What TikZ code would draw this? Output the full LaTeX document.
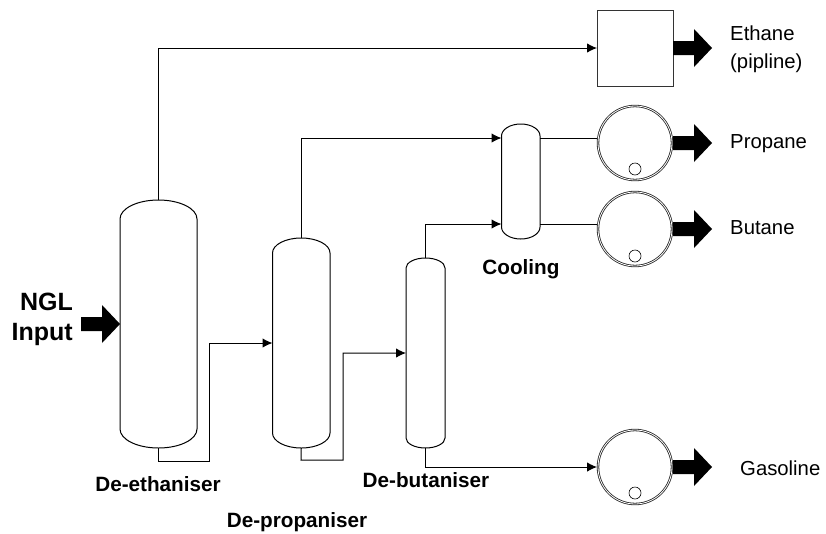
\documentclass[tikz,border=0pt]{standalone}
\usepackage{fontspec}
\setmainfont{Liberation Sans}
\usetikzlibrary{arrows.meta}
\newcommand{\vesselshape}[6]{% name, left, right, top, bottom, head height
  \pgfmathsetmacro{\vxm}{(#2+#3)/2}\pgfmathsetmacro{\vym}{(#4+#5)/2}
  \pgfmathsetmacro{\vw}{#3-#2}\pgfmathsetmacro{\vh}{#5-#4}
  \pgfmathsetmacro{\vkx}{0.5523*\vw/2}\pgfmathsetmacro{\vky}{0.5523*#6}
  \draw[line width=1pt,fill=white]
    (#2,#4+#6) .. controls (#2,#4+#6-\vky) and (\vxm-\vkx,#4) .. (\vxm,#4)
    .. controls (\vxm+\vkx,#4) and (#3,#4+#6-\vky) .. (#3,#4+#6)
    -- (#3,#5-#6) .. controls (#3,#5-#6+\vky) and (\vxm+\vkx,#5) .. (\vxm,#5)
    .. controls (\vxm-\vkx,#5) and (#2,#5-#6+\vky) .. (#2,#5-#6) -- cycle;
  \node[inner sep=0pt,outer sep=0pt,minimum width=\vw pt,minimum height=\vh pt] (#1) at (\vxm,\vym) {};
}
\newcommand{\blockarrow}[2]{% tip-side start x, centre y
  \fill[black] (#1,#2-7) -- (#1+21,#2-7) -- (#1+21,#2-19) -- (#1+39,#2) -- (#1+21,#2+19) -- (#1+21,#2+7) -- (#1,#2+7) -- cycle;
}
\tikzset{
  pipe/.style={line width=1pt},
  flow/.style={line width=1pt,-{Latex[length=10pt,width=9.5pt]}},
  drum/.style={circle,draw=black!85,line width=.8pt,double=white,double distance=.8pt,minimum size=74pt,inner sep=0pt,outer sep=1pt},
  boot/.style={circle,draw,line width=.6pt,minimum size=12pt,inner sep=0pt},
  plain/.style={font=\fontsize{20.3}{28}\selectfont,align=left,inner sep=0pt,anchor=west},
  tag/.style={font=\fontsize{20.7}{24}\selectfont\bfseries,inner sep=0pt},
}
\begin{document}
\begin{tikzpicture}[x=1pt,y=-1pt]
\useasboundingbox (0,0) rectangle (826,533);
\vesselshape{de}{120}{197}{200}{448}{19}
\vesselshape{dp}{272.5}{330}{238}{448}{15}
\vesselshape{db}{406}{445}{258}{448}{10}
\vesselshape{cool}{501.5}{540}{124}{239}{12}
\node[draw=black!80,line width=.8pt,minimum size=76pt,inner sep=0pt,outer sep=0pt] (box) at (635,48) {};
\node[drum] (d1) at (635,143) {};
\node[drum] (d2) at (635,229) {};
\node[drum] (d3) at (635,467) {};
\node[boot] (b1) at (635,169) {};
\node[boot] (b2) at (635,256) {};
\node[boot] (b3) at (635,493) {};
\coordinate (coolA) at (501.5,138);
\coordinate (coolB) at (501.5,224);
\coordinate (coolC) at (540,138);
\coordinate (coolD) at (540,224);
\coordinate (j1) at (158.5,461);
\coordinate (j2) at (209,343);
\coordinate (j3) at (301,460);
\coordinate (j4) at (343,353);
\draw[flow] (de.north) |- (box.west);
\draw[flow] (de.south) -- (j1) -| (j2) -- (dp.west);
\draw[flow] (dp.north) |- (coolA);
\draw[flow] (dp.south) -- (j3) -| (j4) -- (db.west);
\draw[flow] (db.north) |- (coolB);
\draw[flow] (db.south) |- (d3.west);
\draw[pipe] (coolC) -- (coolC -| d1.west);
\draw[pipe] (coolD) -- (coolD -| d2.west);
\blockarrow{673}{48}
\blockarrow{673}{143}
\blockarrow{673}{229}
\blockarrow{673}{467}
\blockarrow{81}{324}
\node[plain] (t1) at (730,49) {Ethane\\(pipline)};
\node[plain] (t2) at (730,144) {Propane};
\node[plain] (t3) at (730,228) {Butane};
\node[plain] (t4) at (740,468) {Gasoline};
\node[tag,font=\fontsize{25}{30}\selectfont\bfseries,align=right,anchor=east] (ngl) at (73,319) {NGL\\Input};
\node[tag] (l1) at (158,484) {De-ethaniser};
\node[tag] (l2) at (297,522.5) {De-propaniser};
\node[tag] (l3) at (426,480) {De-butaniser};
\node[tag] (l4) at (521,269) {Cooling};
\end{tikzpicture}
\end{document}
